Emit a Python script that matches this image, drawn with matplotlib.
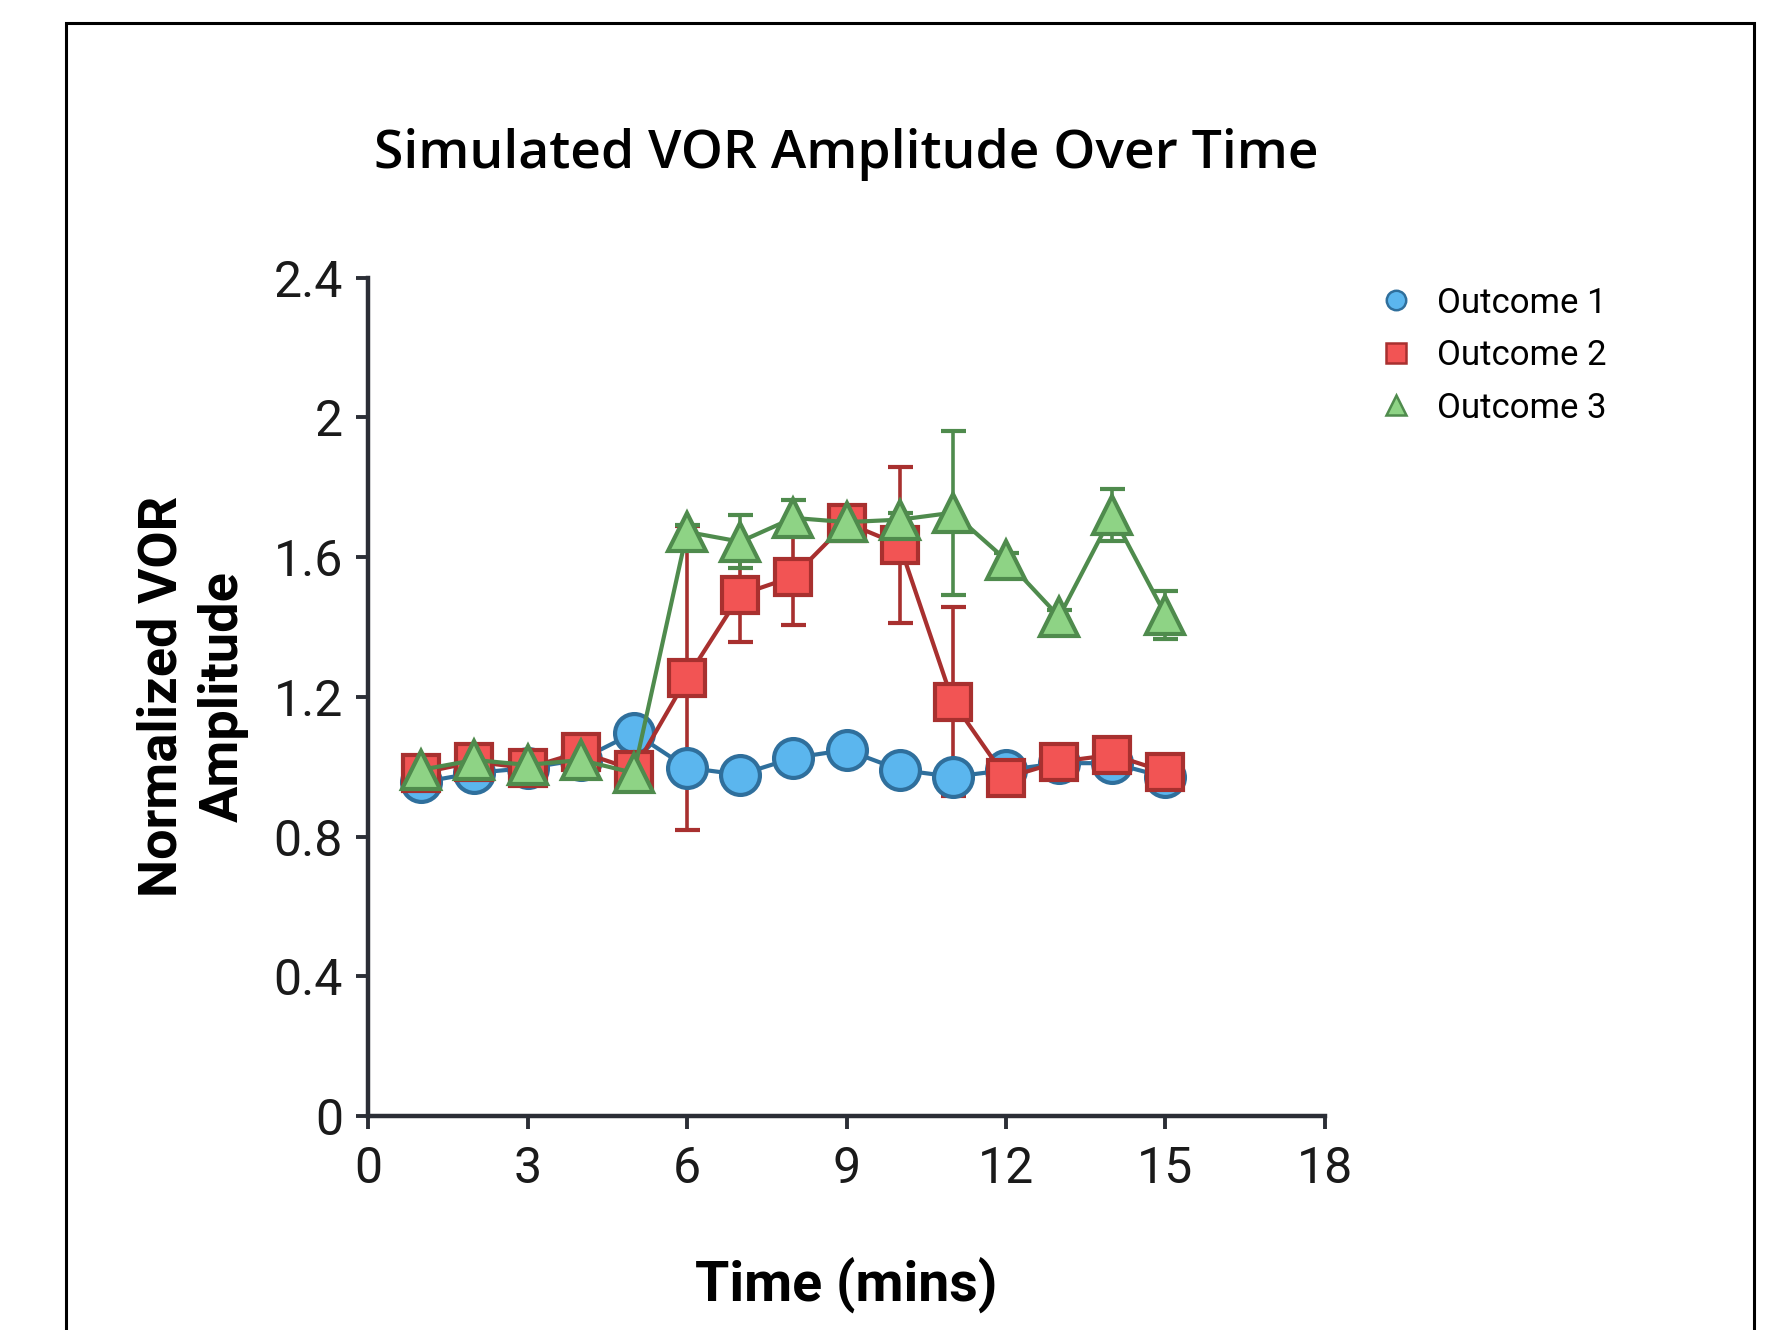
"""
VOR amplitude over time for three simulated outcomes, mean +/- error.
"""

import matplotlib
matplotlib.use("Agg")
import matplotlib.pyplot as plt
from matplotlib.lines import Line2D
from matplotlib.patches import Rectangle

time_mins = [1, 2, 3, 4, 5, 6, 7, 8, 9, 10, 11, 12, 13, 14, 15]

outcome1 = [0.955, 0.982, 0.996, 1.02, 1.097, 0.997, 0.977, 1.025, 1.048, 0.991, 0.971, 0.99, 1.01, 1.01, 0.97]
outcome1_err = [0.01] * 15

outcome2 = [0.982, 1.014, 0.996, 1.042, 0.991, 1.254, 1.492, 1.544, 1.698, 1.635, 1.186, 0.968, 1.014, 1.034, 0.985]
outcome2_err = [0.02, 0.02, 0.02, 0.02, 0.02, 0.434, 0.135, 0.138, 0.03, 0.223, 0.27, 0.02, 0.02, 0.02, 0.02]

outcome3 = [0.991, 1.019, 1.005, 1.019, 0.982, 1.672, 1.644, 1.712, 1.70, 1.707, 1.727, 1.592, 1.429, 1.721, 1.434]
outcome3_err = [0.02, 0.02, 0.02, 0.02, 0.02, 0.02, 0.075, 0.052, 0.02, 0.02, 0.235, 0.02, 0.02, 0.075, 0.07]

labels = ["Outcome 1", "Outcome 2", "Outcome 3"]
x_ticks = [0, 3, 6, 9, 12, 15, 18]
y_ticks = [0, 0.4, 0.8, 1.2, 1.6, 2.0, 2.4]
y_ticklabels = ["0", "0.4", "0.8", "1.2", "1.6", "2", "2.4"]

AXIS_COLOR = "#2b2e36"
styles = [
    dict(marker="o", face="#5bb6ee", edge="#2f6f9c", ms=28),
    dict(marker="s", face="#f25454", edge="#a8302f", ms=26),
    dict(marker="^", face="#8ed385", edge="#4f8b4d", ms=28),
]

plt.rcParams["font.family"] = ["Roboto", "DejaVu Sans"]

fig = plt.figure(figsize=(17.91, 13.30), dpi=100)
ax = fig.add_axes([0.2055, 0.1609, 0.5343, 0.6304])

series = [(outcome1, outcome1_err), (outcome2, outcome2_err), (outcome3, outcome3_err)]
for (vals, errs), st in zip(series, styles):
    ax.errorbar(time_mins, vals, yerr=errs, color=st["edge"], linewidth=3.0,
                elinewidth=2.6, capsize=9, capthick=2.6,
                marker=st["marker"], markersize=st["ms"],
                markerfacecolor=st["face"], markeredgecolor=st["edge"],
                markeredgewidth=3.0, clip_on=False)

ax.set_xlim(0, 18)
ax.set_ylim(0, 2.4)
ax.set_xticks(x_ticks)
ax.set_yticks(y_ticks)
ax.set_yticklabels(y_ticklabels)

for side in ("top", "right"):
    ax.spines[side].set_visible(False)
for side in ("left", "bottom"):
    ax.spines[side].set_linewidth(3.2)
    ax.spines[side].set_color(AXIS_COLOR)
ax.tick_params(direction="out", length=9, width=2.8, color=AXIS_COLOR,
               labelsize=36, labelcolor="#1a1a1a", pad=9)
ax.tick_params(axis="x", pad=12)

ax.set_xlabel("Time (mins)", fontsize=40, fontweight="bold", labelpad=46)
ax.set_ylabel("Normalized VOR\nAmplitude", fontsize=39, fontweight="bold",
              labelpad=18, linespacing=1.25)

fig.text(0.4725, 0.884, "Simulated VOR Amplitude Over Time", ha="center", va="center",
         fontsize=38.5, fontweight="semibold", family=["Open Sans", "DejaVu Sans"])

handles = [Line2D([], [], linestyle="none", marker=st["marker"], markersize=14,
                  markerfacecolor=st["face"], markeredgecolor=st["edge"],
                  markeredgewidth=1.8) for st in styles]
fig.legend(handles, labels, loc="upper left", bbox_to_anchor=(0.770, 0.7845),
           frameon=False, fontsize=25, handlelength=1.0, handletextpad=0.67,
           labelspacing=0.56, borderpad=0, borderaxespad=0)

# thin black frame around the panel, open at the bottom
fig.add_artist(Rectangle((66 / 1791, -0.1), (1754 - 66) / 1791, 1.1 - 23 / 1330,
                         transform=fig.transFigure, fill=False,
                         linewidth=2.2, edgecolor="black"))

fig.savefig("out.png", dpi=100)
